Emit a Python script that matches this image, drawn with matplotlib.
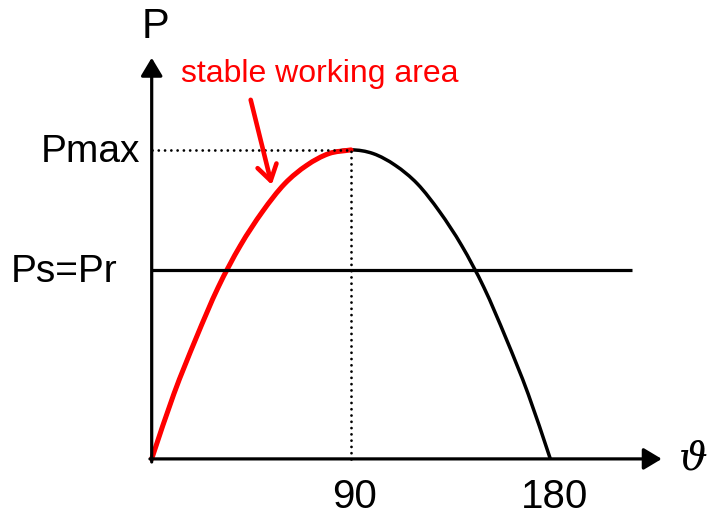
import matplotlib
matplotlib.use("Agg")
import matplotlib.pyplot as plt
from matplotlib.path import Path
from matplotlib.patches import PathPatch

plt.rcParams['font.family'] = ['Liberation Sans', 'DejaVu Sans']

# power-angle curve, values every 10 degrees (P / Pmax)
theta_curve = [0, 10, 20, 30, 40, 50, 60, 70, 80, 90,
               100, 110, 120, 130, 140, 150, 160, 170, 180]
p_curve = [0, 0.21, 0.39, 0.555, 0.69, 0.80, 0.89, 0.95, 0.988, 1.0,
           0.988, 0.95, 0.89, 0.80, 0.69, 0.555, 0.39, 0.21, 0]
n_stable = 10  # first 10 points: 0..90 degrees (stable part, drawn red)

p_max = 1.0
p_s = 0.612          # Ps = Pr level
theta_peak = 90
tick_labels = ['90', '180']


def smooth_path(xs, ys):
    # Catmull-Rom through the read points, as cubic bezier segments
    pts = list(zip(xs, ys))
    first = (2 * pts[0][0] - pts[1][0], 2 * pts[0][1] - pts[1][1])
    last = (2 * pts[-1][0] - pts[-2][0], 2 * pts[-1][1] - pts[-2][1])
    ext = [first] + pts + [last]
    verts = [pts[0]]
    codes = [Path.MOVETO]
    for i in range(1, len(ext) - 2):
        p0, p1, p2, p3 = ext[i - 1], ext[i], ext[i + 1], ext[i + 2]
        c1 = (p1[0] + (p2[0] - p0[0]) / 6, p1[1] + (p2[1] - p0[1]) / 6)
        c2 = (p2[0] - (p3[0] - p1[0]) / 6, p2[1] - (p3[1] - p1[1]) / 6)
        verts += [c1, c2, p2]
        codes += [Path.CURVE4] * 3
    return Path(verts, codes)


def main():
    fig = plt.figure(figsize=(7.08, 5.17), dpi=100)
    ax = fig.add_axes([0, 0, 1, 1])
    ax.set_xlim(-68.5, 251.2)
    ax.set_ylim(-0.188, 1.485)
    ax.axis('off')

    # axes with arrows
    head = '-|>,head_length=0.55,head_width=0.33'
    ax.annotate('', xy=(230.3, 0), xytext=(-0.8, 0),
                arrowprops=dict(arrowstyle=head, lw=2.3, color='black',
                                mutation_scale=20, shrinkA=0, shrinkB=0))
    ax.annotate('', xy=(0, 1.298), xytext=(0, -0.01),
                arrowprops=dict(arrowstyle=head, lw=2.3, color='black',
                                mutation_scale=20, shrinkA=0, shrinkB=0))

    # dotted guides to the peak
    dots = (0, (0.01, 2.25))
    ax.plot([0, theta_peak], [p_max, p_max], color='black', lw=2.0,
            linestyle=dots, dash_capstyle='round')
    ax.plot([theta_peak, theta_peak], [0, p_max], color='black', lw=2.0,
            linestyle=dots, dash_capstyle='round')

    # Ps = Pr line
    ax.plot([0, 217], [p_s, p_s], color='black', lw=2.3, solid_capstyle='butt')

    # curve
    ax.add_patch(PathPatch(smooth_path(theta_curve, p_curve), fill=False,
                           edgecolor='black', lw=2.5))
    ax.add_patch(PathPatch(smooth_path(theta_curve[:n_stable], p_curve[:n_stable]),
                           fill=False, edgecolor='red', lw=3.6, capstyle='round'))

    # labels
    ax.text(1.9, 1.398, 'P', fontsize=30, ha='center', va='center')
    ax.text(-5.3, 0.961, 'Pmax', fontsize=28, ha='right', va='baseline')
    ax.text(-15.5, 0.574, 'Ps=Pr', fontsize=28, ha='right', va='baseline')
    ax.text(91.4, -0.158, tick_labels[0], fontsize=29, ha='center', va='baseline')
    ax.text(182, -0.158, tick_labels[1], fontsize=29, ha='center', va='baseline')
    ax.text(244.4, 0.0, '\u03d1', fontsize=29, ha='center', va='center',
            family=['DejaVu Serif', 'Liberation Serif'], style='italic')

    ax.text(13.4, 1.221, 'stable working area', fontsize=23, color='red',
            ha='left', va='baseline')
    ax.annotate('', xy=(54.2, 0.887), xytext=(44.7, 1.162),
                arrowprops=dict(arrowstyle='->,head_length=0.55,head_width=0.35',
                                lw=3.3, color='red', mutation_scale=20,
                                shrinkA=0, shrinkB=0))

    fig.savefig('out.png', dpi=100)


if __name__ == "__main__":
    main()
